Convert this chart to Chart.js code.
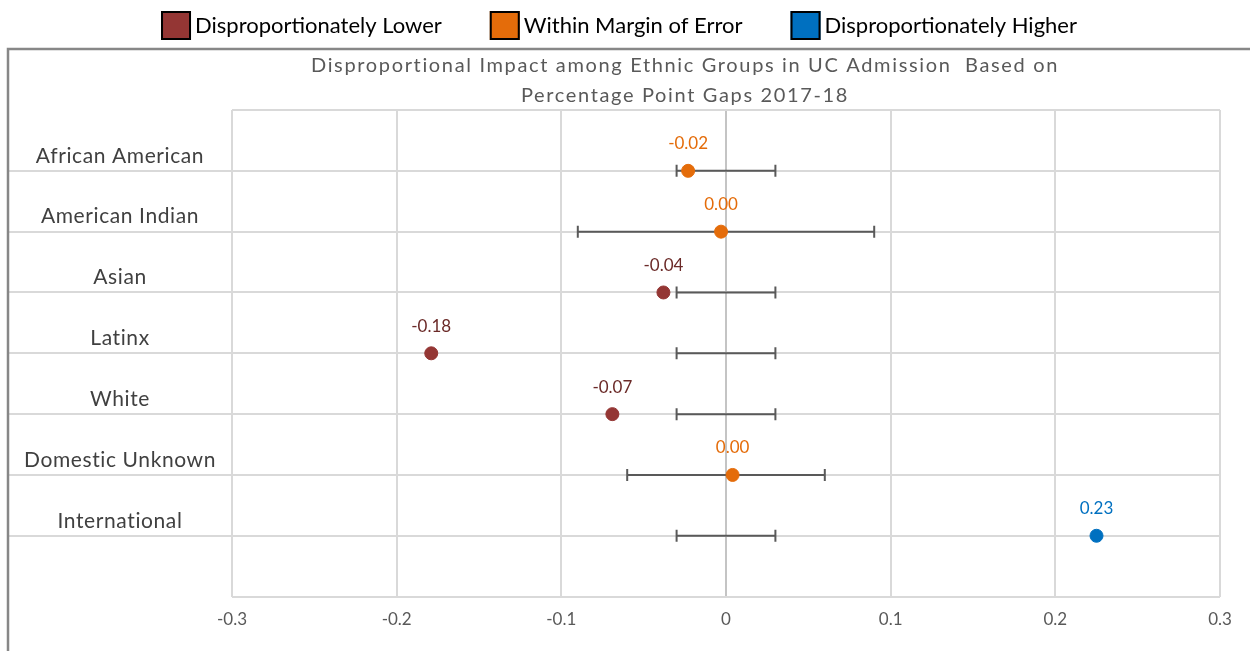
<!DOCTYPE html>
<html>
<head>
<meta charset="utf-8">
<script src="https://cdn.jsdelivr.net/npm/chart.js@4.4.0/dist/chart.umd.min.js"></script>
<style>
  html, body { margin: 0; padding: 0; background: #fff; }
</style>
</head>
<body>
<canvas id="chart" width="1250" height="651"></canvas>
<script>
// rows, top to bottom
var categories = ['African American', 'American Indian', 'Asian', 'Latinx', 'White', 'Domestic Unknown', 'International'];
var gaps = [-0.023, -0.003, -0.038, -0.179, -0.069, 0.004, 0.225];
var errLow = [-0.03, -0.09, -0.03, -0.03, -0.03, -0.06, -0.03];
var errHigh = [0.03, 0.09, 0.03, 0.03, 0.03, 0.06, 0.03];
var groups = ['within', 'within', 'lower', 'lower', 'lower', 'within', 'higher'];

var seriesKeys = ['lower', 'within', 'higher'];
var seriesNames = ['Disproportionately Lower', 'Within Margin of Error', 'Disproportionately Higher'];
var seriesColors = ['#943634', '#E46C0A', '#0070C0'];
var labelColors = ['#6b2a28', '#E46C0A', '#0070C0'];

var xTicks = [-0.3, -0.2, -0.1, 0, 0.1, 0.2, 0.3];
var xTickLabels = ['-0.3', '-0.2', '-0.1', '0', '0.1', '0.2', '0.3'];

var titleLines = ['Disproportional Impact among Ethnic Groups in UC Admission  Based on', 'Percentage Point Gaps 2017-18'];

var FONT = 'Lato, "Open Sans", sans-serif';

// row positions on the y scale: first category on top
var rowY = categories.map(function (c, i) { return categories.length - i; });

var datasets = [];
seriesKeys.forEach(function (key, s) {
    var pts = [];
    categories.forEach(function (c, i) {
        if (groups[i] === key) pts.push({ x: gaps[i], y: rowY[i] });
    });
    datasets.push({
        label: seriesNames[s],
        data: pts,
        backgroundColor: seriesColors[s],
        borderColor: seriesColors[s],
        pointRadius: 6.5,
        pointHoverRadius: 6.5,
        labelColor: labelColors[s]
    });
});
categories.forEach(function (c, i) {
    datasets.push({
        label: 'err',
        isErr: true,
        data: [{ x: errLow[i], y: rowY[i] }, { x: errHigh[i], y: rowY[i] }],
        showLine: true,
        borderColor: '#595959',
        borderWidth: 2,
        pointStyle: 'line',
        rotation: 90,
        pointRadius: 6,
        pointHoverRadius: 6,
        pointBorderWidth: 2,
        pointBorderColor: '#595959'
    });
});

function fmt(v) {
    var s = v.toFixed(2);
    return s === '-0.00' ? '0.00' : s;
}

var decor = {
    id: 'decor',
    afterDraw: function (chart) {
        var ctx = chart.ctx;
        var y = chart.scales.y;
        ctx.save();

        // outer frame (left + top)
        ctx.strokeStyle = '#878787';
        ctx.lineWidth = 2.5;
        ctx.beginPath();
        ctx.moveTo(8, 651);
        ctx.lineTo(8, 49);
        ctx.lineTo(1250, 49);
        ctx.stroke();

        // title
        ctx.fillStyle = '#595959';
        ctx.font = '20px ' + FONT;
        ctx.letterSpacing = '1.65px';
        ctx.textAlign = 'center';
        ctx.textBaseline = 'middle';
        ctx.fillText(titleLines[0], 685, 66);
        ctx.fillText(titleLines[1], 685, 96);
        ctx.letterSpacing = '0px';

        // category labels above their row lines
        ctx.fillStyle = '#404040';
        ctx.font = '21px ' + FONT;
        ctx.letterSpacing = '0.6px';
        categories.forEach(function (c, i) {
            ctx.fillText(c, 120, y.getPixelForValue(rowY[i]) - 15);
        });
        ctx.letterSpacing = '0px';

        // value labels above points
        ctx.font = '17px ' + FONT;
        chart.data.datasets.forEach(function (ds, d) {
            if (ds.isErr) return;
            var meta = chart.getDatasetMeta(d);
            ctx.fillStyle = ds.labelColor;
            meta.data.forEach(function (pt, k) {
                ctx.fillText(fmt(ds.data[k].x), pt.x, pt.y - 27);
            });
        });

        // legend
        ctx.font = '22px ' + FONT;
        ctx.textAlign = 'left';
        var boxW = 30, boxH = 29, gapText = 4, gapItem = 48;
        var widths = seriesNames.map(function (n) { return boxW + gapText + ctx.measureText(n).width; });
        var total = widths.reduce(function (a, b) { return a + b; }, 0) + gapItem * (seriesNames.length - 1);
        var x = 619 - total / 2;
        seriesNames.forEach(function (n, s) {
            ctx.fillStyle = seriesColors[s];
            ctx.fillRect(x, 11, boxW, boxH);
            ctx.strokeStyle = '#000';
            ctx.lineWidth = 2;
            ctx.strokeRect(x + 1, 12, boxW - 2, boxH - 2);
            ctx.fillStyle = '#000';
            ctx.fillText(n, x + boxW + gapText, 26);
            x += widths[s] + gapItem;
        });

        ctx.restore();
    }
};

new Chart(document.getElementById('chart'), {
    type: 'scatter',
    data: { datasets: datasets },
    options: {
        responsive: false,
        animation: false,
        layout: { padding: { top: 110, left: 8, right: 30, bottom: 8 } },
        plugins: {
            legend: { display: false },
            title: { display: false },
            tooltip: { enabled: false }
        },
        scales: {
            x: {
                type: 'linear',
                min: -0.3,
                max: 0.3,
                afterBuildTicks: function (axis) {
                    axis.ticks = xTicks.map(function (v) { return { value: v }; });
                },
                ticks: {
                    padding: 13,
                    color: '#595959',
                    font: { family: FONT, size: 17 },
                    callback: function (v, i) { return xTickLabels[i]; }
                },
                grid: {
                    drawTicks: false,
                    lineWidth: 2,
                    color: function (c) { return c.tick && c.tick.value === 0 ? '#c4c4c4' : '#d9d9d9'; }
                },
                border: { display: false }
            },
            y: {
                type: 'linear',
                min: 0,
                max: categories.length + 1,
                ticks: { display: false, stepSize: 1 },
                grid: {
                    lineWidth: 2,
                    color: '#d9d9d9',
                    drawTicks: true,
                    tickLength: 224,
                    tickColor: function (c) {
                        var v = c.tick ? c.tick.value : 0;
                        return (v === 0 || v === categories.length + 1) ? 'rgba(0,0,0,0)' : '#d9d9d9';
                    }
                },
                border: { display: false }
            }
        }
    },
    plugins: [decor]
});
</script>
</body>
</html>
